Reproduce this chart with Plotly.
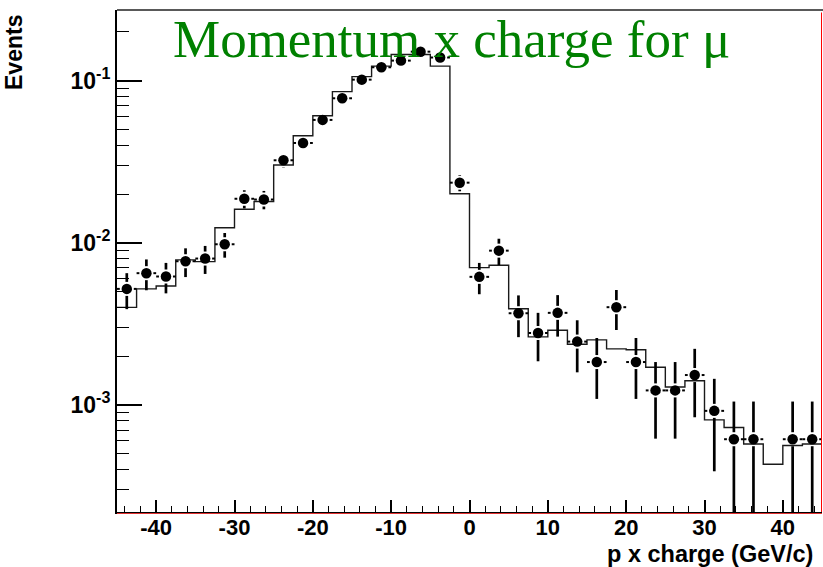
import math
import plotly.graph_objects as go

# ---------------- data ----------------
bin_centers = [-43.75, -41.25, -38.75, -36.25, -33.75, -31.25, -28.75, -26.25, -23.75,
               -21.25, -18.75, -16.25, -13.75, -11.25, -8.75, -6.25, -3.75, -1.25,
               1.25, 3.75, 6.25, 8.75, 11.25, 13.75, 16.25, 18.75, 21.25, 23.75,
               26.25, 28.75, 31.25, 33.75, 36.25, 38.75, 41.25, 43.75]
bin_half_width = 1.25

data_vals = [5.2e-3, 6.5e-3, 6.2e-3, 7.7e-3, 8.0e-3, 9.8e-3, 1.87e-2, 1.85e-2, 3.23e-2,
             4.13e-2, 5.73e-2, 7.79e-2, 0.1015, 0.121, 0.133, 0.151, 0.139, 2.35e-2,
             6.17e-3, 8.95e-3, 3.68e-3, 2.78e-3, 3.70e-3, 2.46e-3, 1.84e-3, 4.01e-3,
             1.84e-3, 1.23e-3, 1.23e-3, 1.53e-3, 9.2e-4, 6.15e-4, 6.15e-4, None,
             6.15e-4, 6.15e-4]
data_errs = [1.3e-3, 1.4e-3, 1.32e-3, 1.55e-3, 1.57e-3, 1.7e-3, 2.4e-3, 2.4e-3, 3.2e-3,
             3.6e-3, 4.2e-3, 4.9e-3, 5.6e-3, 6.1e-3, 6.4e-3, 6.8e-3, 6.5e-3, 2.7e-3,
             1.35e-3, 1.65e-3, 1.06e-3, 0.92e-3, 1.06e-3, 0.87e-3, 0.75e-3, 1.11e-3,
             0.75e-3, 0.61e-3, 0.61e-3, 0.69e-3, 0.53e-3, 0.435e-3, 0.435e-3, None,
             0.435e-3, 0.435e-3]
mc_vals = [4.0e-3, 5.2e-3, 5.42e-3, 7.85e-3, 7.66e-3, 1.24e-2, 1.61e-2, 1.80e-2, 3.02e-2,
           4.58e-2, 6.08e-2, 8.56e-2, 0.106, 0.123, 0.145, 0.145, 0.123, 2.01e-2,
           7.03e-3, 7.27e-3, 3.92e-3, 2.63e-3, 2.89e-3, 2.37e-3, 2.52e-3, 2.22e-3,
           2.19e-3, 1.71e-3, 1.29e-3, 1.41e-3, 8.09e-4, 7.26e-4, 5.75e-4, 4.31e-4,
           5.62e-4, 5.75e-4]

x_ticks = [-40, -30, -20, -10, 0, 10, 20, 30, 40]
x_ticktext = ["-40", "-30", "-20", "-10", "0", "10", "20", "30", "40"]
y_ticks = [1e-3, 1e-2, 1e-1]
y_ticktext = ["10<sup>-3</sup>", "10<sup>-2</sup>", "10<sup>-1</sup>"]

title_text = "Momentum x charge for \u03bc"
x_title = "p x charge (GeV/c)"
y_title = "Events"

# ---------------- layout geometry ----------------
W, H = 823, 567
ML, MR, MT, MB = 117, 1, 10, 55
plot_w = W - ML - MR
plot_h = H - MT - MB
x_range = [-45, 45]
y_range = [-3.66, -0.564]
px_per_x = plot_w / (x_range[1] - x_range[0])
px_per_dex = plot_h / (y_range[1] - y_range[0])
gap_px = 7.0
gx = gap_px / px_per_x
gy = gap_px / px_per_dex

# histogram steps
edges = [c - bin_half_width for c in bin_centers] + [bin_centers[-1] + bin_half_width]
hist_y = mc_vals + [mc_vals[-1]]

# error bars (ROOT style, with a gap around the marker)
vx, vy, hx, hy = [], [], [], []
for c, v, e in zip(bin_centers, data_vals, data_errs):
    if v is None:
        continue
    up_gap = v * 10 ** gy
    lo_gap = v * 10 ** (-gy)
    if v + e > up_gap:
        vx += [c, c, None]
        vy += [up_gap, v + e, None]
    lo = max(v - e, 1e-6)
    if lo < lo_gap:
        vx += [c, c, None]
        vy += [lo_gap, lo, None]
    if bin_half_width > gx:
        hx += [c - bin_half_width, c - gx, None, c + gx, c + bin_half_width, None]
        hy += [v, v, None, v, v, None]

pts_x = [c for c, v in zip(bin_centers, data_vals) if v is not None]
pts_y = [v for v in data_vals if v is not None]

fig = go.Figure()
fig.add_trace(go.Scatter(x=edges, y=hist_y, mode="lines", line_shape="hv",
                         line=dict(color="#1a1a1a", width=1.4), hoverinfo="skip"))
fig.add_trace(go.Scatter(x=vx, y=vy, mode="lines", line=dict(color="black", width=2.7),
                         hoverinfo="skip"))
fig.add_trace(go.Scatter(x=hx, y=hy, mode="lines", line=dict(color="black", width=2.0),
                         hoverinfo="skip"))
fig.add_trace(go.Scatter(x=pts_x, y=pts_y, mode="markers",
                         marker=dict(symbol="circle", size=10.5, color="black",
                                     line=dict(width=0)),
                         cliponaxis=False))

minor_y = []
for d in range(-4, 0):
    for k in range(2, 10):
        minor_y.append(k * 10 ** d)

axis_font = dict(family="Liberation Sans, Arial, sans-serif", size=22, color="black",
                 weight="bold")
yaxis_font = dict(family="Liberation Sans, Arial, sans-serif", size=23, color="black",
                  weight="bold")

fig.update_layout(
    width=W, height=H,
    margin=dict(l=ML, r=MR, t=MT, b=MB, pad=0),
    paper_bgcolor="white", plot_bgcolor="white",
    showlegend=False,
    xaxis=dict(range=x_range, showgrid=False, zeroline=False,
               showline=True, linecolor="black", linewidth=2,
               tickmode="array", tickvals=x_ticks, ticktext=x_ticktext,
               ticks="inside", ticklen=12, tickwidth=1.5, tickcolor="black",
               tickfont=axis_font, ticklabelstandoff=-5,
               minor=dict(tickmode="linear", tick0=0, dtick=2, ticks="inside",
                          ticklen=6, tickwidth=1.3, tickcolor="black")),
    yaxis=dict(type="log", range=y_range, showgrid=False, zeroline=False,
               showline=True, linecolor="black", linewidth=2,
               tickmode="array", tickvals=y_ticks, ticktext=y_ticktext,
               ticks="inside", ticklen=25, tickwidth=1.5, tickcolor="black",
               tickfont=yaxis_font, ticklabelstandoff=0,
               minor=dict(tickmode="array", tickvals=minor_y, ticks="inside",
                          ticklen=12, tickwidth=1.3, tickcolor="black")),
    shapes=[
        dict(type="line", xref="paper", yref="paper", x0=0, x1=1.002, y0=1, y1=1,
             line=dict(color="#222222", width=1.6), layer="above"),
        dict(type="line", xref="paper", yref="paper", x0=0.9993, x1=0.9993, y0=0, y1=0.995,
             line=dict(color="red", width=1), layer="above"),
        dict(type="line", xref="paper", yref="paper", x0=0, x1=1,
             ysizemode="pixel", yanchor=0, y0=-1.5, y1=-1.5,
             line=dict(color="#e03030", width=1), layer="above"),
    ],
    annotations=[
        dict(text=title_text, xref="paper", yref="paper", x=0.475, y=0.943,
             xanchor="center", yanchor="middle", showarrow=False,
             font=dict(family="Liberation Serif, Times New Roman, serif", size=53,
                       color="#008000")),
        dict(text=x_title, xref="paper", yref="paper", x=1, y=0, xshift=-7, yshift=-42,
             xanchor="right", yanchor="middle", showarrow=False,
             font=dict(family="Liberation Sans, Arial, sans-serif", size=23.5,
                       color="black", weight="bold")),
        dict(text=y_title, xref="paper", yref="paper", x=(14 - ML) / plot_w,
             y=(plot_h - (53 - MT)) / plot_h, xanchor="center", yanchor="middle",
             textangle=-90, showarrow=False,
             font=dict(family="Liberation Sans, Arial, sans-serif", size=23,
                       color="black", weight="bold")),
    ],
)

fig.write_html("out.html")
